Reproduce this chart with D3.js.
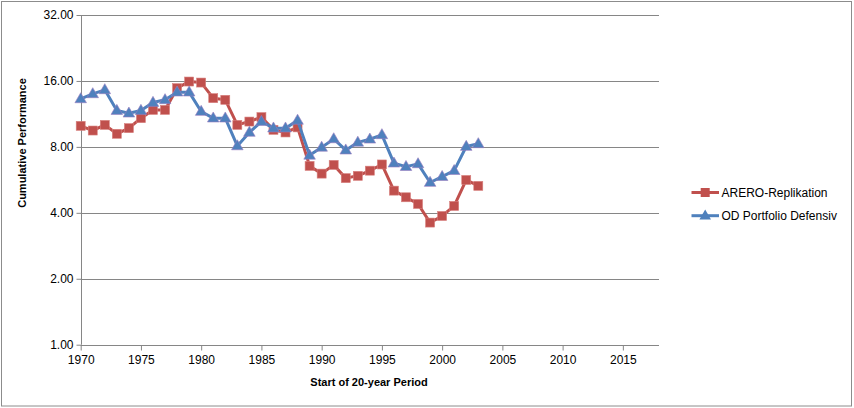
<!DOCTYPE html>
<html><head><meta charset="utf-8">
<script src="https://cdn.jsdelivr.net/npm/d3@7"></script>
<style>body{margin:0;background:#fff}svg{display:block}text{font-family:"Liberation Sans",Arial,sans-serif}</style>
</head><body><svg id="c" width="854" height="408"></svg>
<script>
const years = d3.range(1970, 2004);
const arero = [9.98,9.50,10.08,9.18,9.74,10.82,11.80,11.80,14.83,15.9,15.73,13.35,13.12,10.08,10.44,10.94,9.57,9.31,9.82,6.55,6.04,6.62,5.76,5.90,6.23,6.65,5.05,4.71,4.39,3.61,3.87,4.30,5.65,5.31];
const odDef = [13.25,13.97,14.57,11.72,11.40,11.72,12.75,13.12,14.22,14.22,11.60,10.82,10.82,8.08,9.31,10.44,9.74,9.74,10.57,7.32,7.96,8.70,7.73,8.39,8.67,9.08,6.74,6.50,6.69,5.50,5.85,6.23,8.03,8.26];
const seriesNames = ["ARERO-Replikation","OD Portfolio Defensiv"];
const xTicks = [1970,1975,1980,1985,1990,1995,2000,2005,2010,2015];
const yTicks = [1,2,4,8,16,32];
const xDomain = [1970, 2018];
const yDomain = [1, 32];

const svg = d3.select("#c");
const L = 80.7, R = 659, T = 15, B = 344.7;
const x = d3.scaleLinear().domain(xDomain).range([L, R]);
const y = d3.scaleLog().base(2).domain(yDomain).range([B, T]);
const grey = "#868686";

svg.append("rect").attr("x",1.5).attr("y",1.5).attr("width",850).attr("height",404.5)
  .attr("fill","#fff").attr("stroke","#8c8c8c").attr("stroke-width",1);

// gridlines
svg.append("g").selectAll("line").data(yTicks.filter(d=>d>1)).join("line")
  .attr("x1",L).attr("x2",R).attr("y1",d=>Math.round(y(d))+0.5).attr("y2",d=>Math.round(y(d))+0.5)
  .attr("stroke",grey).attr("stroke-width",1);

// y axis
const ya = svg.append("g").attr("transform",`translate(${Math.round(L)+0.5},0)`)
  .call(d3.axisLeft(y).tickValues(yTicks).tickFormat(d3.format(".2f")).tickSize(5).tickPadding(3));
ya.select(".domain").attr("stroke",grey).attr("d",`M-5,${T}H0V${B}`).attr("d",`M0,${T}V${B}`);
ya.selectAll(".tick line").attr("stroke",grey);
ya.selectAll(".tick text").attr("font-size",12).attr("fill","#000").attr("font-family","Liberation Sans, Arial, sans-serif");

// x axis
const xa = svg.append("g").attr("transform",`translate(0,${Math.round(B)+0.5})`)
  .call(d3.axisBottom(x).tickValues(xTicks).tickFormat(d3.format("d")).tickSize(5).tickPadding(5));
xa.select(".domain").attr("stroke",grey).attr("d",`M${L},0H${R}`);
xa.selectAll(".tick line").attr("stroke",grey);
xa.selectAll(".tick text").attr("font-size",12).attr("fill","#000").attr("font-family","Liberation Sans, Arial, sans-serif");

// titles
svg.append("text").attr("transform","translate(26,143) rotate(-90)").attr("text-anchor","middle")
  .attr("font-size",11).attr("font-weight","bold").text("Cumulative Performance");
svg.append("text").attr("x",369).attr("y",386).attr("text-anchor","middle")
  .attr("font-size",11).attr("font-weight","bold").text("Start of 20-year Period");

const colors = ["#C0504D","#4F81BD"];
const data = [arero, odDef];
const line = d3.line().x((d,i)=>x(years[i])).y(d=>y(d));
const tri = d3.symbol().type(d3.symbolTriangle).size(58);

data.forEach((s,k)=>{
  svg.append("path").attr("d",line(s)).attr("fill","none").attr("stroke",colors[k])
    .attr("stroke-width",3).attr("stroke-linejoin","round");
  const g = svg.append("g");
  if(k===0){
    g.selectAll("rect").data(s).join("rect")
      .attr("x",(d,i)=>x(years[i])-4.5).attr("y",d=>y(d)-4.5).attr("width",9).attr("height",9)
      .attr("fill",colors[0]).attr("stroke","#d8807e").attr("stroke-width",0.6);
  } else {
    g.selectAll("path").data(s).join("path").attr("d",tri)
      .attr("transform",(d,i)=>`translate(${x(years[i])},${y(d)+0.5})`)
      .attr("fill",colors[1]).attr("stroke","#9a7cc0").attr("stroke-width",0.6);
  }
});

// legend
const legY = [192.5, 215.7];
seriesNames.forEach((n,k)=>{
  const g = svg.append("g");
  g.append("line").attr("x1",691.5).attr("x2",719).attr("y1",legY[k]).attr("y2",legY[k])
    .attr("stroke",colors[k]).attr("stroke-width",3);
  if(k===0){
    g.append("rect").attr("x",705.2-4.5).attr("y",legY[k]-4.5).attr("width",9).attr("height",9).attr("fill",colors[0]);
  } else {
    g.append("path").attr("d",tri).attr("transform",`translate(705.2,${legY[k]+0.5})`).attr("fill",colors[1]);
  }
  g.append("text").attr("x",721.5).attr("y",legY[k]+4.5).attr("font-size",12).attr("fill","#000").text(n);
});
</script></body></html>
